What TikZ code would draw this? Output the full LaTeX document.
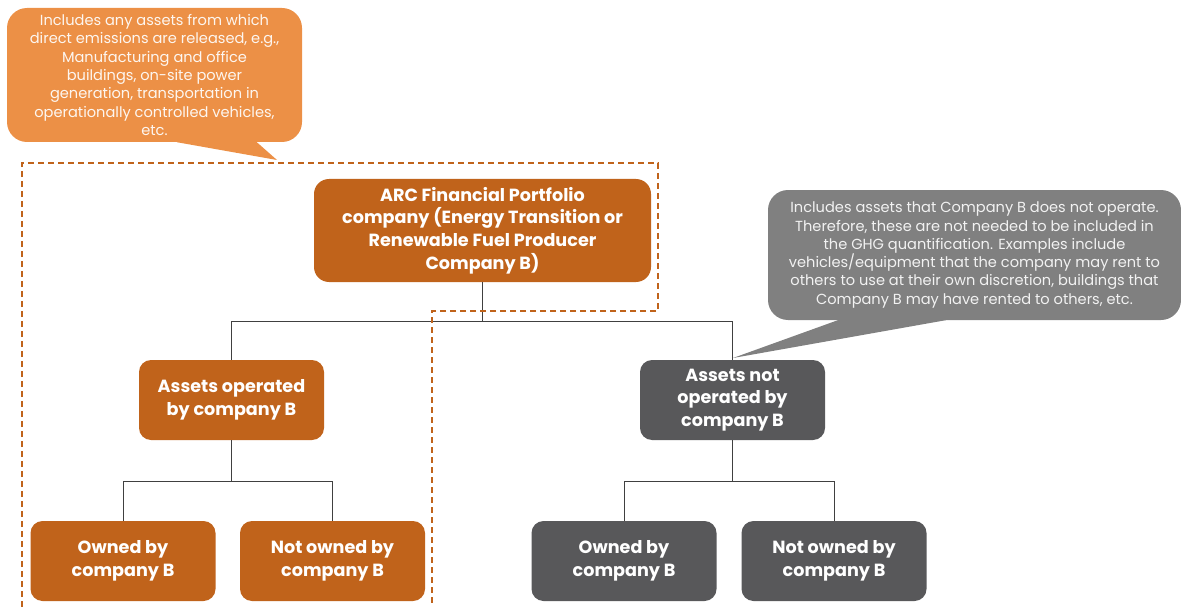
\documentclass[tikz,border=0pt]{standalone}
\usepackage{fontspec}
\setmainfont{Poppins}
\usetikzlibrary{positioning}
\definecolor{rust}{HTML}{C0631B}
\definecolor{peach}{HTML}{EC9046}
\definecolor{slate}{HTML}{58585A}
\definecolor{mist}{HTML}{808080}
\definecolor{wire}{HTML}{404040}
\tikzset{
  box/.style={rounded corners=12pt, minimum width=185pt, minimum height=80pt,
    align=center, text=white, font=\fontsize{17.6}{22.8}\selectfont\bfseries},
  orangebox/.style={box, fill=rust},
  graybox/.style={box, fill=slate},
  note/.style={rounded corners=20pt, align=center, inner sep=0pt,
    font=\fontsize{14.6}{18.3}\selectfont},
  link/.style={draw=wire, line width=0.9pt},
  scopeline/.style={draw=rust, line width=1.4pt, dash pattern=on 6pt off 4pt}
}
\begin{document}
\begin{tikzpicture}[x=1pt, y=-1pt]
\useasboundingbox (0,0) rectangle (1181,607);
% Define the nodes
\node[orangebox, minimum width=337pt, minimum height=103pt, rounded corners=15pt] at (482.5,230.5) (top)
  {ARC Financial Portfolio\\company (Energy Transition or\\Renewable Fuel Producer\\Company B)};
\node[orangebox] at (231.5,400) (op) {Assets operated\\by company B};
\node[graybox] at (732.5,400) (notop) {Assets not\\operated by\\company B};
\node[orangebox] at (123,561) (opown) {Owned by\\company B};
\node[orangebox] at (332.5,561) (opnotown) {Not owned by\\company B};
\node[graybox] at (624,561) (notopown) {Owned by\\company B};
\node[graybox] at (834,561) (notopnotown) {Not owned by\\company B};
\coordinate (split) at (482.5,321);
\coordinate (splitop) at (231.5,481);
\coordinate (splitnotop) at (732.5,481);
% Draw the paths
\draw[link] (top.south) -- (split);
\draw[link] (split) -| (op.north);
\draw[link] (split) -| (notop.north);
\draw[link] (op.south) -- (splitop);
\draw[link] (splitop) -| (opown.north);
\draw[link] (splitop) -| (opnotown.north);
\draw[link] (notop.south) -- (splitnotop);
\draw[link] (splitnotop) -| (notopown.north);
\draw[link] (splitnotop) -| (notopnotown.north);
% operational boundary
\draw[scopeline] (22,607) -- (22,163) -- (658,163) -- (658,311) -- (432,311) -- (432,607);
% callouts
\node[note, fill=peach, text=white!92!peach, minimum width=295pt, minimum height=134pt] at (154.5,75) (noteA)
  {Includes any assets from which\\direct emissions are released, e.g.,\\Manufacturing and office\\buildings, on-site power\\generation, transportation in\\operationally controlled vehicles,\\etc.};
\coordinate (tipA) at (277,160);
\fill[peach] ([xshift=170pt]noteA.south west) -- (tipA) -- ([xshift=250pt]noteA.south west) -- cycle;
\node[note, fill=mist, text=white!90!mist, minimum width=413pt, minimum height=130pt] at (974.5,255) (noteB)
  {Includes assets that Company B does not operate.\\Therefore, these are not needed to be included in\\the GHG quantification. Examples include\\vehicles/equipment that the company may rent to\\others to use at their own discretion, buildings that\\Company B may have rented to others, etc.};
\coordinate (tipB) at (733,358);
\fill[mist] ([xshift=70pt]noteB.south west) -- (tipB) -- ([xshift=178pt]noteB.south west) -- cycle;
\end{tikzpicture}
\end{document}
